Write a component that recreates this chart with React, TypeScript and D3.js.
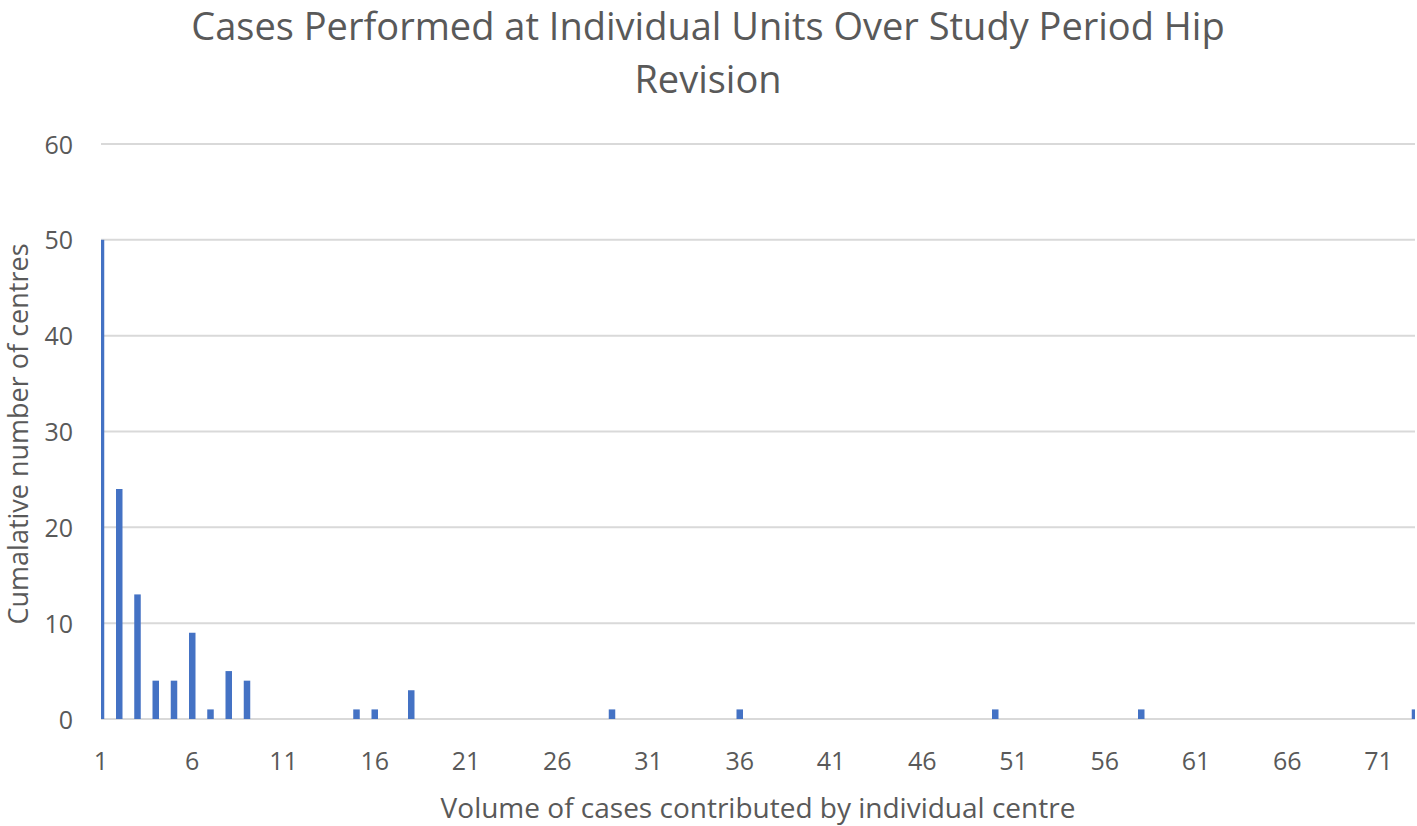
import React from "react";
import * as d3 from "d3";

const categories: number[] = d3.range(1, 74);
const barCats = [1, 2, 3, 4, 5, 6, 7, 8, 9, 15, 16, 18, 29, 36, 50, 58, 73];
const barValues = [50, 24, 13, 4, 4, 9, 1, 5, 4, 1, 1, 3, 1, 1, 1, 1, 1];
const yTicks = [0, 10, 20, 30, 40, 50, 60];
const xTickLabels = [1, 6, 11, 16, 21, 26, 31, 36, 41, 46, 51, 56, 61, 66, 71];
const titleLines = ["Cases Performed at Individual Units Over Study Period Hip", "Revision"];
const xTitle = "Volume of cases contributed by individual centre";
const yTitle = "Cumalative number of centres";

const W = 1417, H = 826;
const m = { left: 101, right: 1415, top: 144, bottom: 719 };
const FONT = "'Open Sans', 'Noto Sans', sans-serif";

export default function App() {
  const x = d3.scalePoint<number>().domain(categories).range([m.left, m.right]);
  const y = d3.scaleLinear().domain([0, 60]).range([m.bottom, m.top]);
  const bw = 6.5;
  const data = barCats.map((c, i) => ({ c, v: barValues[i] }));
  return (
    <svg width={W} height={H} style={{ position: "absolute", left: 0, top: 0, background: "#fff" }}>
      <defs>
        <clipPath id="plot">
          <rect x={m.left} y={0} width={m.right - m.left} height={H} />
        </clipPath>
      </defs>
      <rect width={W} height={H} fill="#fff" />
      {titleLines.map((t, i) => (
        <text key={i} x={708} y={40 + i * 53} textAnchor="middle" fontFamily={FONT} fontSize={38} fill="#595959">
          {t}
        </text>
      ))}
      {yTicks.map((t) => (
        <g key={t}>
          <line x1={m.left} x2={m.right} y1={y(t)} y2={y(t)} stroke="#d9d9d9" strokeWidth={2} />
          <text x={73} y={y(t) + 9.5} textAnchor="end" fontFamily={FONT} fontSize={25} fill="#595959">
            {t}
          </text>
        </g>
      ))}
      <g clipPath="url(#plot)">
        {data.map((d) => (
          <rect key={d.c} x={(x(d.c) as number) - bw / 2} y={y(d.v)} width={bw} height={y(0) - y(d.v)} fill="#4472c4" />
        ))}
      </g>
      {xTickLabels.map((t) => (
        <text key={t} x={x(t) as number} y={770} textAnchor="middle" fontFamily={FONT} fontSize={25} fill="#595959">
          {t}
        </text>
      ))}
      <text x={758} y={818} textAnchor="middle" fontFamily={FONT} fontSize={28} fill="#595959">
        {xTitle}
      </text>
      <text transform={`translate(28,434) rotate(-90)`} textAnchor="middle" fontFamily={FONT} fontSize={27} fill="#595959">
        {yTitle}
      </text>
    </svg>
  );
}
